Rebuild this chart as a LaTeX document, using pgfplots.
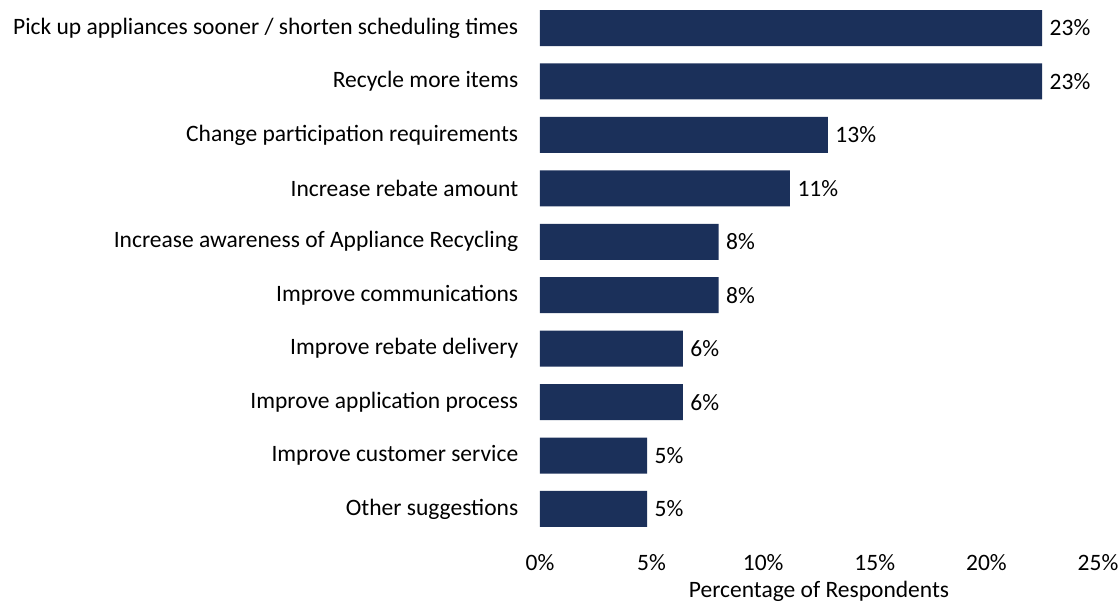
\documentclass[border=0pt]{standalone}
\usepackage{fontspec}
\setmainfont{Carlito}
\usepackage{pgfplots}
\pgfplotsset{compat=1.18}
\definecolor{barnavy}{RGB}{27,48,90}

\pgfplotstableread{
pos val lab
1 22.5 23\%
2 22.5 23\%
3 12.9 13\%
4 11.2 11\%
5 8.0 8\%
6 8.0 8\%
7 6.4 6\%
8 6.4 6\%
9 4.8 5\%
10 4.8 5\%
}\suggestions

\begin{document}
\begin{tikzpicture}
\begin{axis}[
  at={(540pt,69.3pt)}, anchor=south west,
  scale only axis,
  width=558pt, height=534.4pt,
  xbar, bar width=36pt,
  xmin=0, xmax=25,
  ymin=0.5, ymax=10.5, y dir=reverse,
  xtick={0,5,10,15,20,25},
  xticklabels={0\%,5\%,10\%,15\%,20\%,25\%},
  ytick={1,...,10},
  yticklabels={
    Pick up appliances sooner / shorten scheduling times,
    Recycle more items,
    Change participation requirements,
    Increase rebate amount,
    Increase awareness of Appliance Recycling,
    Improve communications,
    Improve rebate delivery,
    Improve application process,
    Improve customer service,
    Other suggestions},
  axis line style={draw=none},
  tick style={draw=none},
  ticklabel style={font=\fontsize{23.5}{27}\selectfont, text=black},
  yticklabel style={xshift=-14pt},
  xticklabel style={yshift=-15pt},
  xlabel={Percentage of Respondents},
  xlabel style={font=\fontsize{23.5}{27}\selectfont, yshift=-4pt},
  nodes near coords={\pgfplotspointmeta},
  point meta=explicit symbolic,
  nodes near coords style={font=\fontsize{23.5}{27}\selectfont, black, anchor=west, xshift=4pt},
  clip=false,
]
\addplot[fill=barnavy, draw=none] table[x=val, y=pos, meta=lab] {\suggestions};
\end{axis}
\pgfresetboundingbox
\useasboundingbox (0,0) rectangle (1120pt,605pt);
\end{tikzpicture}
\end{document}
